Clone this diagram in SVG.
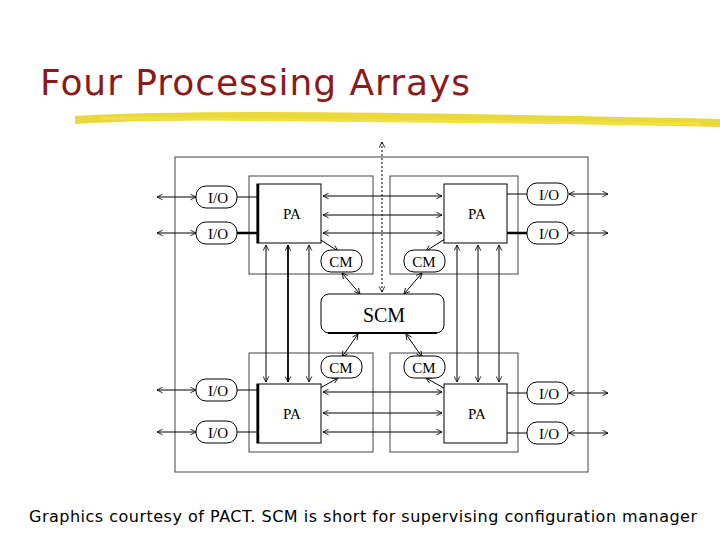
<svg xmlns="http://www.w3.org/2000/svg" width="720" height="540" viewBox="0 0 720 540">
<style>
.t{font-family:"Liberation Serif",serif;font-size:15px;fill:#000;text-anchor:middle}
.b{fill:none;stroke:#444;stroke-width:1}
.p{fill:#fff;stroke:#000;stroke-width:1}
.l{stroke:#000;stroke-width:1;fill:none;marker-start:url(#a);marker-end:url(#a)}
</style>
<defs>
<marker id="a" viewBox="0 0 10 10" refX="9" refY="5" markerWidth="7" markerHeight="7" orient="auto-start-reverse" markerUnits="userSpaceOnUse"><path d="M1,1 L9,5 L1,9" fill="none" stroke="#000" stroke-width="1.2"/></marker>
</defs>
<rect width="720" height="540" fill="#fff"/>
<text x="40" y="95" font-family="DejaVu Sans,sans-serif" font-size="36" fill="#8B1A1A" textLength="430">Four Processing Arrays</text>
<path d="M75,120 C200,113 400,116 720,123" stroke="#e6d21a" stroke-width="8" fill="none" opacity="0.85"/>
<path d="M100,118 L700,124" stroke="#f0e040" stroke-width="3" fill="none"/>
<rect x="175" y="157" width="413" height="315" class="b"/>
<g id="cluster-tl"><rect x="249" y="176" width="124" height="98" class="b"/></g>
<g id="cluster-tr"><rect x="390" y="176" width="128" height="98" class="b"/></g>
<g id="cluster-bl"><rect x="249" y="353" width="124" height="99" class="b"/></g>
<g id="cluster-br"><rect x="390" y="353" width="128" height="99" class="b"/></g>
<g id="connectors">
<line x1="382" y1="142" x2="382" y2="292" class="l" stroke-dasharray="2,2" stroke="#666"/>
<line x1="266" y1="245" x2="266" y2="382" class="l"/>
<line x1="288" y1="245" x2="288" y2="382" class="l" style="stroke-width:1.8"/>
<line x1="309" y1="245" x2="309" y2="382" class="l"/>
<line x1="457" y1="245" x2="457" y2="382" class="l"/>
<line x1="478" y1="245" x2="478" y2="382" class="l"/>
<line x1="499" y1="245" x2="499" y2="382" class="l"/>
<line x1="323" y1="196" x2="442" y2="196" class="l"/>
<line x1="323" y1="215" x2="442" y2="215" class="l"/>
<line x1="323" y1="233" x2="442" y2="233" class="l" stroke-width="2.5"/>
<line x1="323" y1="392" x2="442" y2="392" class="l"/>
<line x1="323" y1="413" x2="442" y2="413" class="l"/>
<line x1="323" y1="432" x2="442" y2="432" class="l"/>
<line x1="157" y1="197" x2="196" y2="197" class="l"/>
<line x1="237" y1="197" x2="257" y2="197" stroke="#000"/>
<line x1="157" y1="233" x2="196" y2="233" class="l" stroke-width="2.5"/>
<line x1="237" y1="233" x2="257" y2="233" stroke="#000" stroke-width="2.5"/>
<line x1="157" y1="390" x2="196" y2="390" class="l"/>
<line x1="237" y1="390" x2="257" y2="390" stroke="#000"/>
<line x1="157" y1="432" x2="196" y2="432" class="l"/>
<line x1="237" y1="432" x2="257" y2="432" stroke="#000"/>
<line x1="569" y1="194" x2="608" y2="194" class="l"/>
<line x1="507" y1="194" x2="527" y2="194" stroke="#000"/>
<line x1="569" y1="233" x2="608" y2="233" class="l" stroke-width="2.5"/>
<line x1="507" y1="233" x2="527" y2="233" stroke="#000" stroke-width="2.5"/>
<line x1="569" y1="393" x2="608" y2="393" class="l"/>
<line x1="507" y1="393" x2="527" y2="393" stroke="#000"/>
<line x1="569" y1="433" x2="608" y2="433" class="l"/>
<line x1="507" y1="433" x2="527" y2="433" stroke="#000"/>
<line x1="297" y1="225" x2="338" y2="251" class="l"/>
<line x1="467" y1="225" x2="426" y2="251" class="l"/>
<line x1="342" y1="273" x2="360" y2="294" class="l"/>
<line x1="422" y1="273" x2="404" y2="294" class="l"/>
<line x1="297" y1="401" x2="338" y2="378" class="l"/>
<line x1="467" y1="401" x2="426" y2="378" class="l"/>
<line x1="342" y1="357" x2="358" y2="334" class="l"/>
<line x1="422" y1="357" x2="406" y2="334" class="l"/>
</g>
<g id="pa-tl"><rect x="257" y="184" width="64" height="59" class="p"/><line x1="258" y1="184" x2="258" y2="243" stroke="#000" stroke-width="2.5"/><text x="292" y="219" class="t">PA</text></g>
<g id="pa-tr"><rect x="444" y="184" width="63" height="59" class="p"/><text x="477" y="219" class="t">PA</text></g>
<g id="pa-bl"><rect x="257" y="384" width="64" height="59" class="p"/><line x1="258" y1="384" x2="258" y2="443" stroke="#000" stroke-width="2.5"/><text x="292" y="419" class="t">PA</text></g>
<g id="pa-br"><rect x="444" y="384" width="63" height="59" class="p"/><text x="477" y="419" class="t">PA</text></g>
<g id="io-l1"><rect x="196" y="186" width="41" height="22" rx="10" class="p"/><text x="218" y="203" class="t">I/O</text></g>
<g id="io-l2"><rect x="196" y="222" width="41" height="22" rx="10" class="p"/><text x="218" y="239" class="t">I/O</text></g>
<g id="io-l3"><rect x="196" y="379" width="41" height="22" rx="10" class="p"/><text x="218" y="396" class="t">I/O</text></g>
<g id="io-l4"><rect x="196" y="421" width="41" height="22" rx="10" class="p"/><text x="218" y="438" class="t">I/O</text></g>
<g id="io-r1"><rect x="527" y="183" width="41" height="22" rx="10" class="p"/><text x="549" y="200" class="t">I/O</text></g>
<g id="io-r2"><rect x="527" y="222" width="41" height="22" rx="10" class="p"/><text x="549" y="239" class="t">I/O</text></g>
<g id="io-r3"><rect x="527" y="382" width="41" height="22" rx="10" class="p"/><text x="549" y="399" class="t">I/O</text></g>
<g id="io-r4"><rect x="527" y="422" width="41" height="22" rx="10" class="p"/><text x="549" y="439" class="t">I/O</text></g>
<g id="cm-tl"><rect x="321" y="250" width="41" height="22" rx="10" class="p"/><text x="341" y="267" class="t">CM</text></g>
<g id="cm-tr"><rect x="404" y="250" width="41" height="22" rx="10" class="p"/><text x="424" y="267" class="t">CM</text></g>
<g id="cm-bl"><rect x="321" y="356" width="41" height="22" rx="10" class="p"/><text x="341" y="373" class="t">CM</text></g>
<g id="cm-br"><rect x="404" y="356" width="41" height="22" rx="10" class="p"/><text x="424" y="373" class="t">CM</text></g>
<g id="scm"><rect x="321" y="294" width="123" height="39" rx="8" class="p"/><line x1="328" y1="333" x2="437" y2="333" stroke="#000" stroke-width="2"/><text x="384" y="322" class="t" style="font-size:20px">SCM</text></g>
<text x="29" y="522" font-family="DejaVu Sans,sans-serif" font-size="16" fill="#000" textLength="668">Graphics courtesy of PACT. SCM is short for supervising configuration manager</text>
</svg>
